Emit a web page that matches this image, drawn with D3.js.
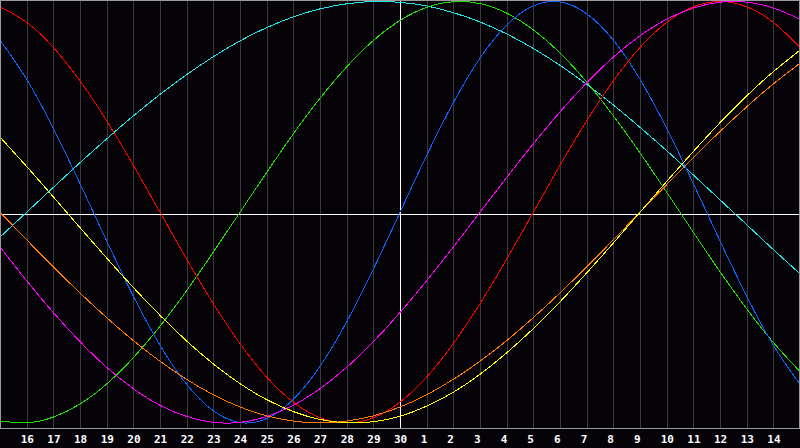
<!DOCTYPE html>
<html><head><meta charset="utf-8">
<script src="https://cdn.jsdelivr.net/npm/d3@7"></script>
<style>html,body{margin:0;padding:0;background:#050308;overflow:hidden}</style>
</head><body>
<svg id="c" width="800" height="448"></svg>
<script>
// day labels along the x axis (first and last positions are unlabeled edges)
const days = ["15","16","17","18","19","20","21","22","23","24","25","26","27","28","29","30",
              "1","2","3","4","5","6","7","8","9","10","11","12","13","14","15"];
const todayIndex = 15;

// cycle values per day
const physical = [0.817,0.631,0.398,0.136,-0.136,-0.398,-0.631,-0.817,-0.942,-0.998,-0.979,-0.888,-0.731,-0.520,-0.270,0,0.270,0.520,0.731,0.888,0.979,0.998,0.942,0.817,0.631,0.398,0.136,-0.136,-0.398,-0.631,-0.817];
const emotional = [0.975,0.901,0.782,0.623,0.434,0.223,0,-0.223,-0.434,-0.623,-0.782,-0.901,-0.975,-1,-0.975,-0.901,-0.782,-0.623,-0.434,-0.223,0,0.223,0.434,0.623,0.782,0.901,0.975,1,0.975,0.901,0.782];
const intellectual = [-0.990,-0.999,-0.972,-0.910,-0.815,-0.690,-0.541,-0.372,-0.189,0,0.189,0.372,0.541,0.690,0.815,0.910,0.972,0.999,0.990,0.945,0.866,0.756,0.618,0.458,0.282,0.095,-0.095,-0.282,-0.458,-0.618,-0.756];
const intuition = [-0.165,-0.325,-0.476,-0.614,-0.736,-0.837,-0.916,-0.969,-0.997,-0.997,-0.969,-0.916,-0.837,-0.736,-0.614,-0.476,-0.325,-0.165,0,0.165,0.325,0.476,0.614,0.736,0.837,0.916,0.969,0.997,0.997,0.969,0.916];
const aesthetic = [0.357,0.217,0.073,-0.073,-0.217,-0.357,-0.489,-0.611,-0.720,-0.813,-0.889,-0.946,-0.983,-0.999,-0.994,-0.968,-0.920,-0.854,-0.769,-0.667,-0.552,-0.425,-0.288,-0.146,0,0.146,0.288,0.425,0.552,0.667,0.769];
const awareness = [0,-0.131,-0.259,-0.383,-0.5,-0.609,-0.707,-0.793,-0.866,-0.924,-0.966,-0.991,-1,-0.991,-0.966,-0.924,-0.866,-0.793,-0.707,-0.609,-0.5,-0.383,-0.259,-0.131,0,0.131,0.259,0.383,0.5,0.609,0.707];
const spiritual = [-0.118,0,0.118,0.235,0.348,0.457,0.559,0.653,0.738,0.813,0.876,0.927,0.965,0.989,1.000,0.996,0.979,0.947,0.903,0.846,0.777,0.697,0.607,0.509,0.403,0.292,0.177,0.059,-0.059,-0.177,-0.292];

const seriesNames = ["spiritual","intellectual","physical","emotional","intuition","awareness","aesthetic"];
const seriesData  = [spiritual, intellectual, physical, emotional, intuition, awareness, aesthetic];
const seriesColors = ["#20e8e8","#20e000","#0a64ff","#ff0000","#ff00ff","#ff7a00","#ffff00"];

const W = 800, plotH = 428;
const svg = d3.select("#c");
const x = d3.scaleLinear().domain([0, days.length - 1]).range([0, W]);
const y = d3.scaleLinear().domain([-1, 1]).range([423, 1.5]);

svg.append("rect").attr("x",0).attr("y",0).attr("width",W).attr("height",448).attr("fill","#050308");

// vertical day grid
const gridIdx = d3.range(1, days.length - 1);
svg.append("g").selectAll("line").data(gridIdx).join("line")
  .attr("x1", d => Math.round(x(d)) + 0.5).attr("x2", d => Math.round(x(d)) + 0.5)
  .attr("y1", 0).attr("y2", plotH)
  .attr("stroke", d => d === todayIndex ? "#ffffff" : "#3c3a3e")
  .attr("stroke-width", 1).attr("shape-rendering","crispEdges");

// zero line
svg.append("line").attr("x1",0).attr("x2",W).attr("y1",214.5).attr("y2",214.5)
  .attr("stroke","#ffffff").attr("shape-rendering","crispEdges");

// curves
const line = d3.line().x((d,i) => x(i)).y(d => y(d)).curve(d3.curveNatural);
svg.append("g").selectAll("path").data(seriesData).join("path")
  .attr("d", d => line(d))
  .attr("fill","none")
  .attr("stroke", (d,i) => seriesColors[i])
  .attr("stroke-width", 1)
  .attr("shape-rendering","crispEdges");

// frame
svg.append("rect").attr("x",0.5).attr("y",0.5).attr("width",W-1).attr("height",plotH-0.5)
  .attr("fill","none").attr("stroke","#9a9a9a").attr("shape-rendering","crispEdges");

// day labels
svg.append("g").selectAll("text").data(gridIdx).join("text")
  .attr("x", d => x(d) - 6).attr("y", 443)
  .attr("fill","#ffffff")
  .attr("font-family","'DejaVu Sans Mono', monospace")
  .attr("font-weight","bold").attr("font-size","11px")
  .text(d => days[d]);
</script>
</body></html>
